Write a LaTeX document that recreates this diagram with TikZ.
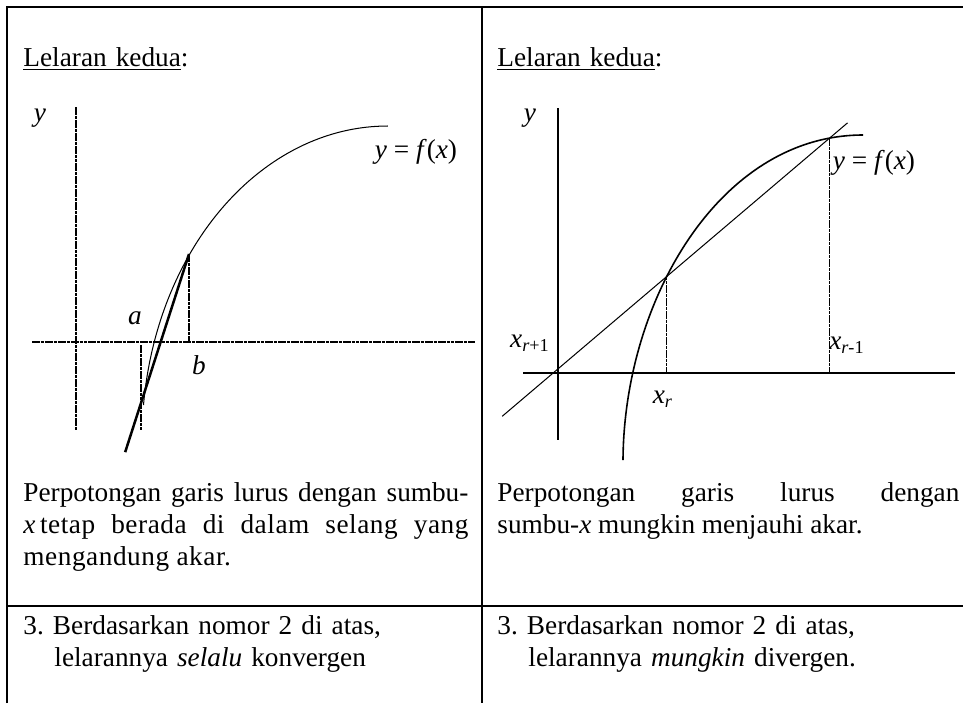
\documentclass[tikz,border=0pt]{standalone}
\usepackage{fontspec}
\setmainfont{Liberation Serif}
\usetikzlibrary{calc}
\newdimen\pxu
\pxu=0.44pt

\begin{document}
\begin{tikzpicture}[x=\pxu,y=\pxu,
  font=\fontsize{12}{14.1}\selectfont\frenchspacing,
  frame/.style={line width=0.9pt},
  axis/.style={line width=0.7pt},
  guide/.style={line width=0.6pt,dash pattern=on 1.6pt off 0.3pt},
  lbl/.style={inner sep=0pt},
  cell/.style={anchor=base west,inner sep=0pt,text width=#1\pxu}]
\useasboundingbox (0,0) rectangle (963,-703);
\draw[frame] (7,-703) -- (7,-7) -- (963,-7);
\draw[frame] (482,-7) -- (482,-703);
\draw[frame] (7,-606) -- (963,-606);
\begin{scope}
\node[cell=445,align=left] (headL) at (23,-66) {\underline{Lelaran kedua}:};
\coordinate (oL) at (76,-342);
\draw[guide] (76,-107) -- (76,-430);
\draw[guide] (32,-342) -- (475,-342);
\draw[line width=0.45pt] (143.5,-405) arc[start angle=173.6,end angle=90,x radius=246,y radius=314];
\coordinate (bL) at (189,-254);
\coordinate (aL) at (141,-403);
\draw[line width=1.1pt] (bL) -- ($(bL)!1.33!(aL)$);
\draw[guide] (bL) -- (bL |- oL);
\draw[guide] (141,-345) -- (141,-430);
\node[lbl] (yL) at (40,-118) {\textit{y}};
\node[lbl] (fL) at (416,-152) {\textit{y} = \textit{f}(\textit{x})};
\node[lbl] (aLbl) at (135,-318) {\textit{a}};
\node[lbl] (bLbl) at (199,-365) {\textit{b}};
\node[cell=445,align=justify] (txtL) at (23,-501) {Perpotongan garis lurus dengan sumbu-\linebreak
  \textit{x}\hspace{2pt}\addfontfeature{LetterSpace=2}tetap berada di dalam selang yang\linebreak mengandung akar.};
\node[cell=445,align=left] (numL) at (23,-634) {3. Berdasarkan nomor 2 di atas,\\
  \hspace*{31\pxu}lelarannya \textit{selalu} konvergen};
\end{scope}
\begin{scope}
\node[cell=462,align=left] (headR) at (497,-66) {\underline{Lelaran kedua}:};
\coordinate (oR) at (558,-373);
\draw[axis] (558,-108) -- (558,-440);
\draw[axis] (523,-373) -- (955,-373);
\draw[axis] (623,-460) .. controls (624,-300) and (720,-135) .. (863,-135)
  coordinate[pos=0.4] (pr) coordinate[pos=0.92] (pm);
\draw[line width=0.45pt] ($(pr)!-1.01!(pm)$) -- ($(pr)!1.11!(pm)$);
\draw[guide] (pr) -- (pr |- oR);
\draw[guide] (pm) -- (pm |- oR);
\node[lbl] (yR) at (530,-118) {\textit{y}};
\node[lbl] (fR) at (874,-163) {\textit{y} = \textit{f}(\textit{x})};
\node[lbl] (xrp) at (530,-343) {\textit{x}\textsubscript{\textit{r}+1}};
\node[lbl] (xr) at (663,-399) {\textit{x}\textsubscript{\textit{r}}};
\node[lbl] (xrm) at (847,-345) {\textit{x}\textsubscript{\textit{r}-1}};
\node[cell=462,align=justify] (txtR) at (497,-501) {Perpotongan garis lurus dengan\linebreak
  sumbu-\textit{x} mungkin menjauhi akar.};
\node[cell=462,align=left] (numR) at (497,-634) {3. Berdasarkan nomor 2 di atas,\\
  \hspace*{31\pxu}lelarannya \textit{mungkin} divergen.};
\end{scope}
\end{tikzpicture}
\end{document}
